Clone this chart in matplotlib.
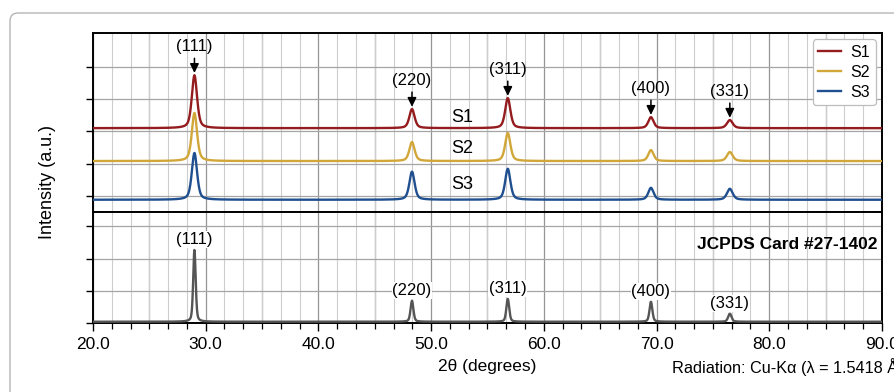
#!/usr/bin/env python
import numpy as np
import matplotlib
matplotlib.use("Agg")
import matplotlib.pyplot as plt
from matplotlib.ticker import MultipleLocator
from matplotlib.patches import FancyBboxPatch

plt.rcParams["font.family"] = ["Liberation Sans", "DejaVu Sans"]

# Peak data (2theta in degrees, heights in arbitrary units)
hkl = ["(111)", "(220)", "(311)", "(400)", "(331)"]
peak_pos = [29.0, 48.3, 56.8, 69.5, 76.5]

s1_base = 2.60
s1_height = [1.64, 0.59, 0.93, 0.34, 0.25]
s2_base = 1.58
s2_height = [1.49, 0.59, 0.87, 0.34, 0.28]
s3_base = 0.38
s3_height = [1.45, 0.87, 0.96, 0.37, 0.34]
sample_fwhm = [0.55, 0.55, 0.55, 0.55, 0.6]

ref_base = 0.04
ref_height = [2.23, 0.65, 0.71, 0.62, 0.25]
ref_fwhm = [0.26, 0.3, 0.3, 0.3, 0.35]

samples = ["S1", "S2", "S3"]
colors = ["#941b1e", "#d2a73a", "#1f4f8f"]
ref_color = "#555555"


def profile(x, base, heights, widths, eta=0.5):
    # pseudo-Voigt peaks on a flat background
    y = np.full_like(x, base)
    for p, h, w in zip(peak_pos, heights, widths):
        g = np.exp(-4 * np.log(2) * (x - p) ** 2 / w ** 2)
        l = 1.0 / (1 + 4 * (x - p) ** 2 / w ** 2)
        y += h * (eta * l + (1 - eta) * g)
    return y


x = np.linspace(20, 90, 4000)

fig = plt.figure(figsize=(8.95, 3.92), dpi=100)

# rounded frame around the whole figure
frame = FancyBboxPatch((10 / 895, -0.1), 1.2, 1 - 13 / 392 + 0.1,
                       boxstyle="round,pad=0,rounding_size=0.009",
                       mutation_aspect=895 / 392,
                       transform=fig.transFigure, facecolor="white",
                       edgecolor="#b5b5b5", linewidth=1.0, zorder=-10)
fig.patches.append(frame)

left, right = 93 / 895, 882 / 895
y_mid = 1 - 212 / 392
ax_top = fig.add_axes([left, y_mid, right - left, (1 - 33 / 392) - y_mid])
ax_bot = fig.add_axes([left, 1 - 323 / 392, right - left, y_mid - (1 - 323 / 392)])

for ax in (ax_top, ax_bot):
    ax.set_xlim(20, 90)
    ax.xaxis.set_major_locator(MultipleLocator(10))
    ax.xaxis.set_minor_locator(MultipleLocator(5 / 3))
    ax.set_axisbelow(True)
    ax.grid(which="minor", axis="x", color="#cdcdcd", linewidth=0.8)
    ax.grid(which="major", axis="x", color="#959595", linewidth=0.9)
    ax.grid(which="major", axis="y", color="#a5a5a5", linewidth=0.9)
    for xv in np.arange(25, 90, 10):
        ax.axvline(xv, color="#959595", linewidth=0.9, zorder=0.5)
    for sp in ax.spines.values():
        sp.set_linewidth(1.4)
    ax.tick_params(axis="y", which="both", direction="out", length=5,
                   width=1.0, labelleft=False, right=False)

# upper panel: measured patterns
ax_top.set_ylim(0, 5.55)
ax_top.set_yticks([0.5, 1.5, 2.5, 3.5, 4.5])
ax_top.tick_params(axis="x", which="both", bottom=False, top=False,
                   labelbottom=False)

bases = [s1_base, s2_base, s3_base]
heights = [s1_height, s2_height, s3_height]
for name, c, b, h in zip(samples, colors, bases, heights):
    ax_top.plot(x, profile(x, b, h, sample_fwhm), color=c, linewidth=1.7,
                label=name, zorder=4)

for lab, p, h in zip(hkl, peak_pos, s1_height):
    ax_top.annotate(lab, xy=(p, s1_base + h + 0.07), xytext=(0, 19),
                    textcoords="offset points", ha="center", va="center",
                    fontsize=12,
                    arrowprops=dict(arrowstyle="-|>,head_width=0.22,head_length=0.45",
                                    color="black", linewidth=1.1,
                                    shrinkA=1, shrinkB=0))

label_y = [2.94, 1.98, 0.84]
for name, ly in zip(samples, label_y):
    ax_top.text(52.8, ly, name, fontsize=13, ha="center", va="center")

leg = ax_top.legend(loc="upper right", fontsize=11.5, frameon=True,
                    fancybox=True, edgecolor="#bdbdbd", framealpha=1,
                    handlelength=1.4, handletextpad=0.6,
                    borderaxespad=0.4, labelspacing=0.3, borderpad=0.35)
leg.get_frame().set_linewidth(0.9)

# lower panel: reference card
ax_bot.set_ylim(0, 3.45)
ax_bot.set_yticks([0, 1, 2, 3])
ax_bot.plot(x, profile(x, ref_base, ref_height, ref_fwhm, eta=0.4),
            color=ref_color, linewidth=1.7, zorder=4)
for lab, p, h in zip(hkl, peak_pos, ref_height):
    ax_bot.annotate(lab, xy=(p, ref_base + h), xytext=(0, 2),
                    textcoords="offset points", ha="center", va="bottom",
                    fontsize=12, zorder=3,
                    bbox=dict(boxstyle="square,pad=0.05", facecolor="white",
                              edgecolor="none"))

ax_bot.text(0.994, 0.71, "JCPDS Card #27-1402", transform=ax_bot.transAxes,
            ha="right", va="center", fontsize=12.5, fontweight="bold")

ax_bot.tick_params(axis="x", which="major", direction="out", length=6,
                   width=1.0, labelsize=12.5, pad=4, top=False)
ax_bot.tick_params(axis="x", which="minor", direction="out", length=4,
                   width=0.9, top=False)
ax_bot.xaxis.set_major_formatter(plt.FuncFormatter(lambda v, _: "%.1f" % v))
ax_bot.set_xlabel("2θ (degrees)", fontsize=12.5, labelpad=5)

fig.text(48 / 895, 1 - 182 / 392, "Intensity (a.u.)", rotation=90,
         ha="center", va="center", fontsize=13)
fig.text(672 / 895, 1 - 367 / 392, "Radiation: Cu-Kα (λ = 1.5418 Å)",
         ha="left", va="center", fontsize=11.7)

fig.savefig("out.png", dpi=100)
